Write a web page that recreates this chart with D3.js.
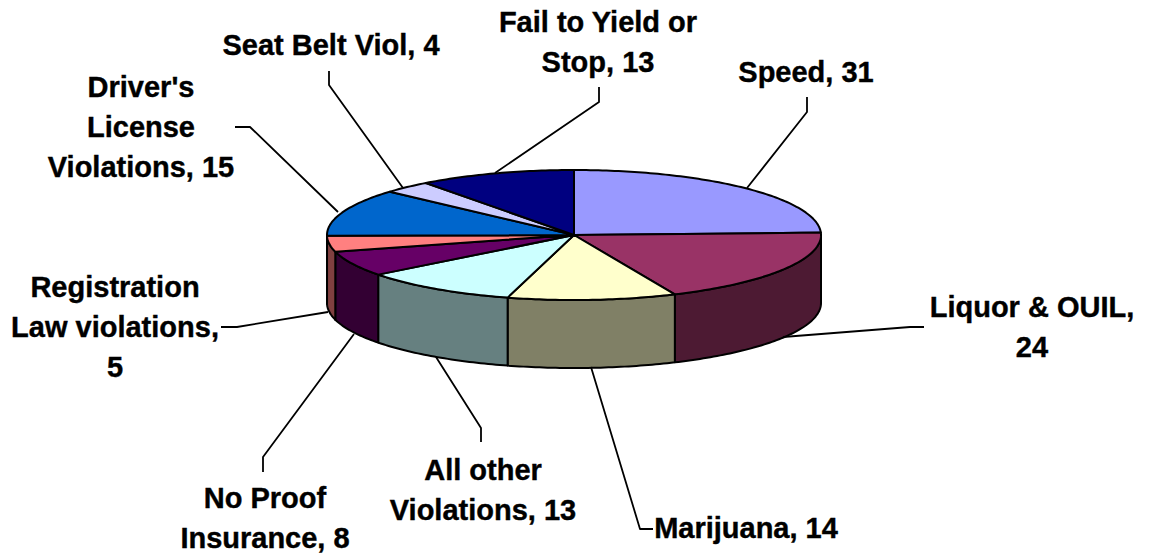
<!DOCTYPE html>
<html lang="en">
<head>
    <meta charset="UTF-8">
    <title>Violations pie</title>
    <script src="https://cdn.jsdelivr.net/npm/d3@7"></script>
    <style>
        html, body { margin: 0; padding: 0; background: #fff; }
        svg { display: block; }
        text { font-family: "Liberation Sans", Arial, sans-serif; font-weight: bold; font-size: 29px; fill: #000; stroke: #000; stroke-width: 0.4px; text-anchor: middle; }
        path { stroke: #000; stroke-linejoin: round; }
        .leader { fill: none; stroke-width: 1.8; }
    </style>
</head>
<body>
<svg id="chart" width="1149" height="555"></svg>
<script>
    // data, clockwise from 12 o'clock
    let categories = ["Speed", "Liquor & OUIL", "Marijuana", "All other Violations", "No Proof Insurance",
        "Registration Law violations", "Driver's License Violations", "Seat Belt Viol", "Fail to Yield or Stop"]
    let values = [31, 24, 14, 13, 8, 5, 15, 4, 13]
    let topColors = ["#9999FF", "#993366", "#FFFFCC", "#CCFFFF", "#660066", "#FF8080", "#0066CC", "#CCCCFF", "#000080"]
    let sideColors = ["#4D4D80", "#4D1A33", "#808066", "#668080", "#330033", "#804040", "#003366", "#666680", "#000040"]
    let labelLines = [
        ["Speed, 31"],
        ["Liquor & OUIL,", "24"],
        ["Marijuana, 14"],
        ["All other", "Violations, 13"],
        ["No Proof", "Insurance, 8"],
        ["Registration", "Law violations,", "5"],
        ["Driver's", "License", "Violations, 15"],
        ["Seat Belt Viol, 4"],
        ["Fail to Yield or", "Stop, 13"]
    ]

    // layout only: label centre x, first baseline y, leader polyline
    let labelLayout = [
        { x: 806, y: 82, leader: [[747, 188], [807, 112], [807, 97]] },
        { x: 1032, y: 317, leader: [[783, 337], [910, 327], [924, 327]] },
        { x: 746, y: 538, leader: [[591, 367], [640, 529], [653, 529]] },
        { x: 483, y: 480, leader: [[436, 357], [481, 428], [481, 442]] },
        { x: 265, y: 508, leader: [[354, 334], [263, 457], [263, 472]] },
        { x: 115, y: 297, leader: [[328, 312], [237, 327], [221, 327]] },
        { x: 141, y: 97, leader: [[338, 212], [250, 127], [235, 127]] },
        { x: 331, y: 55, leader: [[403, 188], [329, 85], [329, 71]] },
        { x: 598, y: 32, leader: [[495, 173], [599, 102], [599, 87]] }
    ]
    let lineHeight = 40

    let cx = 574, cy = 235, rx = 247, ry = 65, depth = 68

    let svg = d3.select("#chart")

    // unit circle -> screen, the tilt is just a different range on y
    let xScale = d3.scaleLinear().domain([-1, 1]).range([cx - rx, cx + rx])
    let yScale = d3.scaleLinear().domain([-1, 1]).range([cy - ry, cy + ry])

    let slices = d3.pie().sort(null).startAngle(0).endAngle(2 * Math.PI)(values)

    let line = d3.line()

    function rimPoint(angle, drop) {
        return [xScale(Math.sin(angle)), yScale(-Math.cos(angle)) + drop]
    }

    function sampleArc(a0, a1, drop) {
        let n = Math.max(2, Math.ceil((a1 - a0) * 60))
        return d3.range(n + 1).map(i => rimPoint(a0 + (a1 - a0) * i / n, drop))
    }

    // front walls: only the part of each slice facing the viewer (90deg to 270deg)
    let walls = svg.append("g")
    slices.forEach((s, i) => {
        let a0 = Math.max(s.startAngle, Math.PI / 2)
        let a1 = Math.min(s.endAngle, 3 * Math.PI / 2)
        if (a1 <= a0) return
        let pts = sampleArc(a0, a1, 0).concat(sampleArc(a0, a1, depth).reverse())
        walls.append("path")
            .attr("d", line(pts) + "Z")
            .attr("fill", sideColors[i])
            .attr("stroke-width", 2)
    })

    let tops = svg.append("g")
    slices.forEach((s, i) => {
        let pts = [[xScale(0), yScale(0)]].concat(sampleArc(s.startAngle, s.endAngle, 0))
        tops.append("path")
            .attr("d", line(pts) + "Z")
            .attr("fill", topColors[i])
            .attr("stroke-width", 2)
    })

    svg.append("g").selectAll("path")
        .data(labelLayout)
        .enter()
        .append("path")
        .attr("class", "leader")
        .attr("d", d => line(d.leader))

    let labels = svg.append("g").selectAll("text")
        .data(labelLines)
        .enter()
        .append("text")
        .attr("x", (d, i) => labelLayout[i].x)
        .attr("y", (d, i) => labelLayout[i].y)

    labels.selectAll("tspan")
        .data((d, i) => d.map(t => ({ text: t, x: labelLayout[i].x })))
        .enter()
        .append("tspan")
        .attr("x", d => d.x)
        .attr("dy", (d, i) => i === 0 ? 0 : lineHeight)
        .text(d => d.text)
</script>
</body>
</html>
